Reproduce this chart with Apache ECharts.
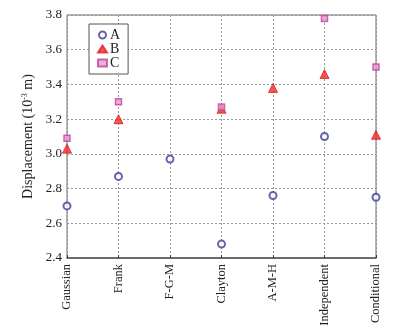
<!DOCTYPE html>
<html>
<head>
<meta charset="utf-8">
<script src="https://cdn.jsdelivr.net/npm/echarts@6/dist/echarts.min.js"></script>
<style>
html,body{margin:0;padding:0;background:#fff;}
#chart{width:394px;height:331px;}
</style>
</head>
<body>
<div id="chart"></div>
<script>
// categories (copula types)
var categories = ['Gaussian', 'Frank', 'F-G-M', 'Clayton', 'A-M-H', 'Independent', 'Conditional'];
// displacement values, 10^-3 m
var valuesA = [2.70, 2.87, 2.97, 2.48, 2.76, 3.10, 2.75];
var valuesB = [3.03, 3.20, null, 3.26, 3.38, 3.46, 3.11];
var valuesC = [3.09, 3.30, null, 3.27, null, 3.78, 3.50];
var yTicks = [2.4, 2.6, 2.8, 3.0, 3.2, 3.4, 3.6, 3.8];

var font = 'Liberation Serif';
var myChart = echarts.init(document.getElementById('chart'));
var option = {
    animation: false,
    textStyle: {fontFamily: font},
    grid: {
        left: 67, right: 18, top: 15, bottom: 73,
        show: true,
        borderColor: '#6a6a6a',
        borderWidth: 1
    },
    legend: {
        orient: 'vertical',
        left: 89,
        top: 24,
        padding: [4, 8, 4, 8],
        itemGap: 0,
        itemWidth: 9,
        itemHeight: 7,
        borderColor: '#555',
        borderWidth: 1,
        backgroundColor: '#fff',
        textStyle: {fontFamily: font, fontSize: 14, lineHeight: 11, color: '#222', padding: [0, 0, 0, -2]},
        data: ['A', 'B', 'C']
    },
    xAxis: {
        type: 'category',
        data: categories,
        boundaryGap: false,
        axisLine: {lineStyle: {color: '#555', width: 1.5}},
        axisTick: {inside: true, length: 3, lineStyle: {color: '#333'}},
        axisLabel: {rotate: 90, color: '#222', fontSize: 12.5, fontFamily: font, margin: 6},
        splitLine: {show: true, lineStyle: {color: '#999', type: [2, 2], width: 1}}
    },
    yAxis: {
        type: 'value',
        min: yTicks[0],
        max: yTicks[yTicks.length - 1],
        interval: 0.2,
        name: '{a|Displacement (10}{s|-3}{a| m)}',
        nameLocation: 'middle',
        nameGap: 30,
        nameTextStyle: {
            rich: {
                a: {fontFamily: font, fontSize: 14, color: '#222'},
                s: {fontFamily: font, fontSize: 8, color: '#222', verticalAlign: 'top', padding: [0, 0, 6, 0]}
            }
        },
        axisLine: {lineStyle: {color: '#111', width: 1.5}},
        axisTick: {inside: true, length: 3, lineStyle: {color: '#333'}},
        axisLabel: {
            color: '#222', fontSize: 13, fontFamily: font, margin: 5,
            formatter: function (v) { return v.toFixed(1); }
        },
        splitLine: {show: true, lineStyle: {color: '#999', type: [2, 2], width: 1}}
    },
    series: [
        {
            name: 'A',
            type: 'scatter',
            symbol: 'emptyCircle',
            symbolSize: 7,
            itemStyle: {color: '#3d3d94', borderWidth: 2},
            data: valuesA
        },
        {
            name: 'B',
            type: 'scatter',
            symbol: 'triangle',
            symbolSize: 9,
            itemStyle: {color: '#ee2a2a', borderColor: '#e02020', borderWidth: 1},
            data: valuesB
        },
        {
            name: 'C',
            type: 'scatter',
            symbol: 'rect',
            symbolSize: 6,
            itemStyle: {color: '#e49ad0', borderColor: '#c0449a', borderWidth: 1.5},
            data: valuesC
        }
    ]
};
myChart.setOption(option);
</script>
</body>
</html>
